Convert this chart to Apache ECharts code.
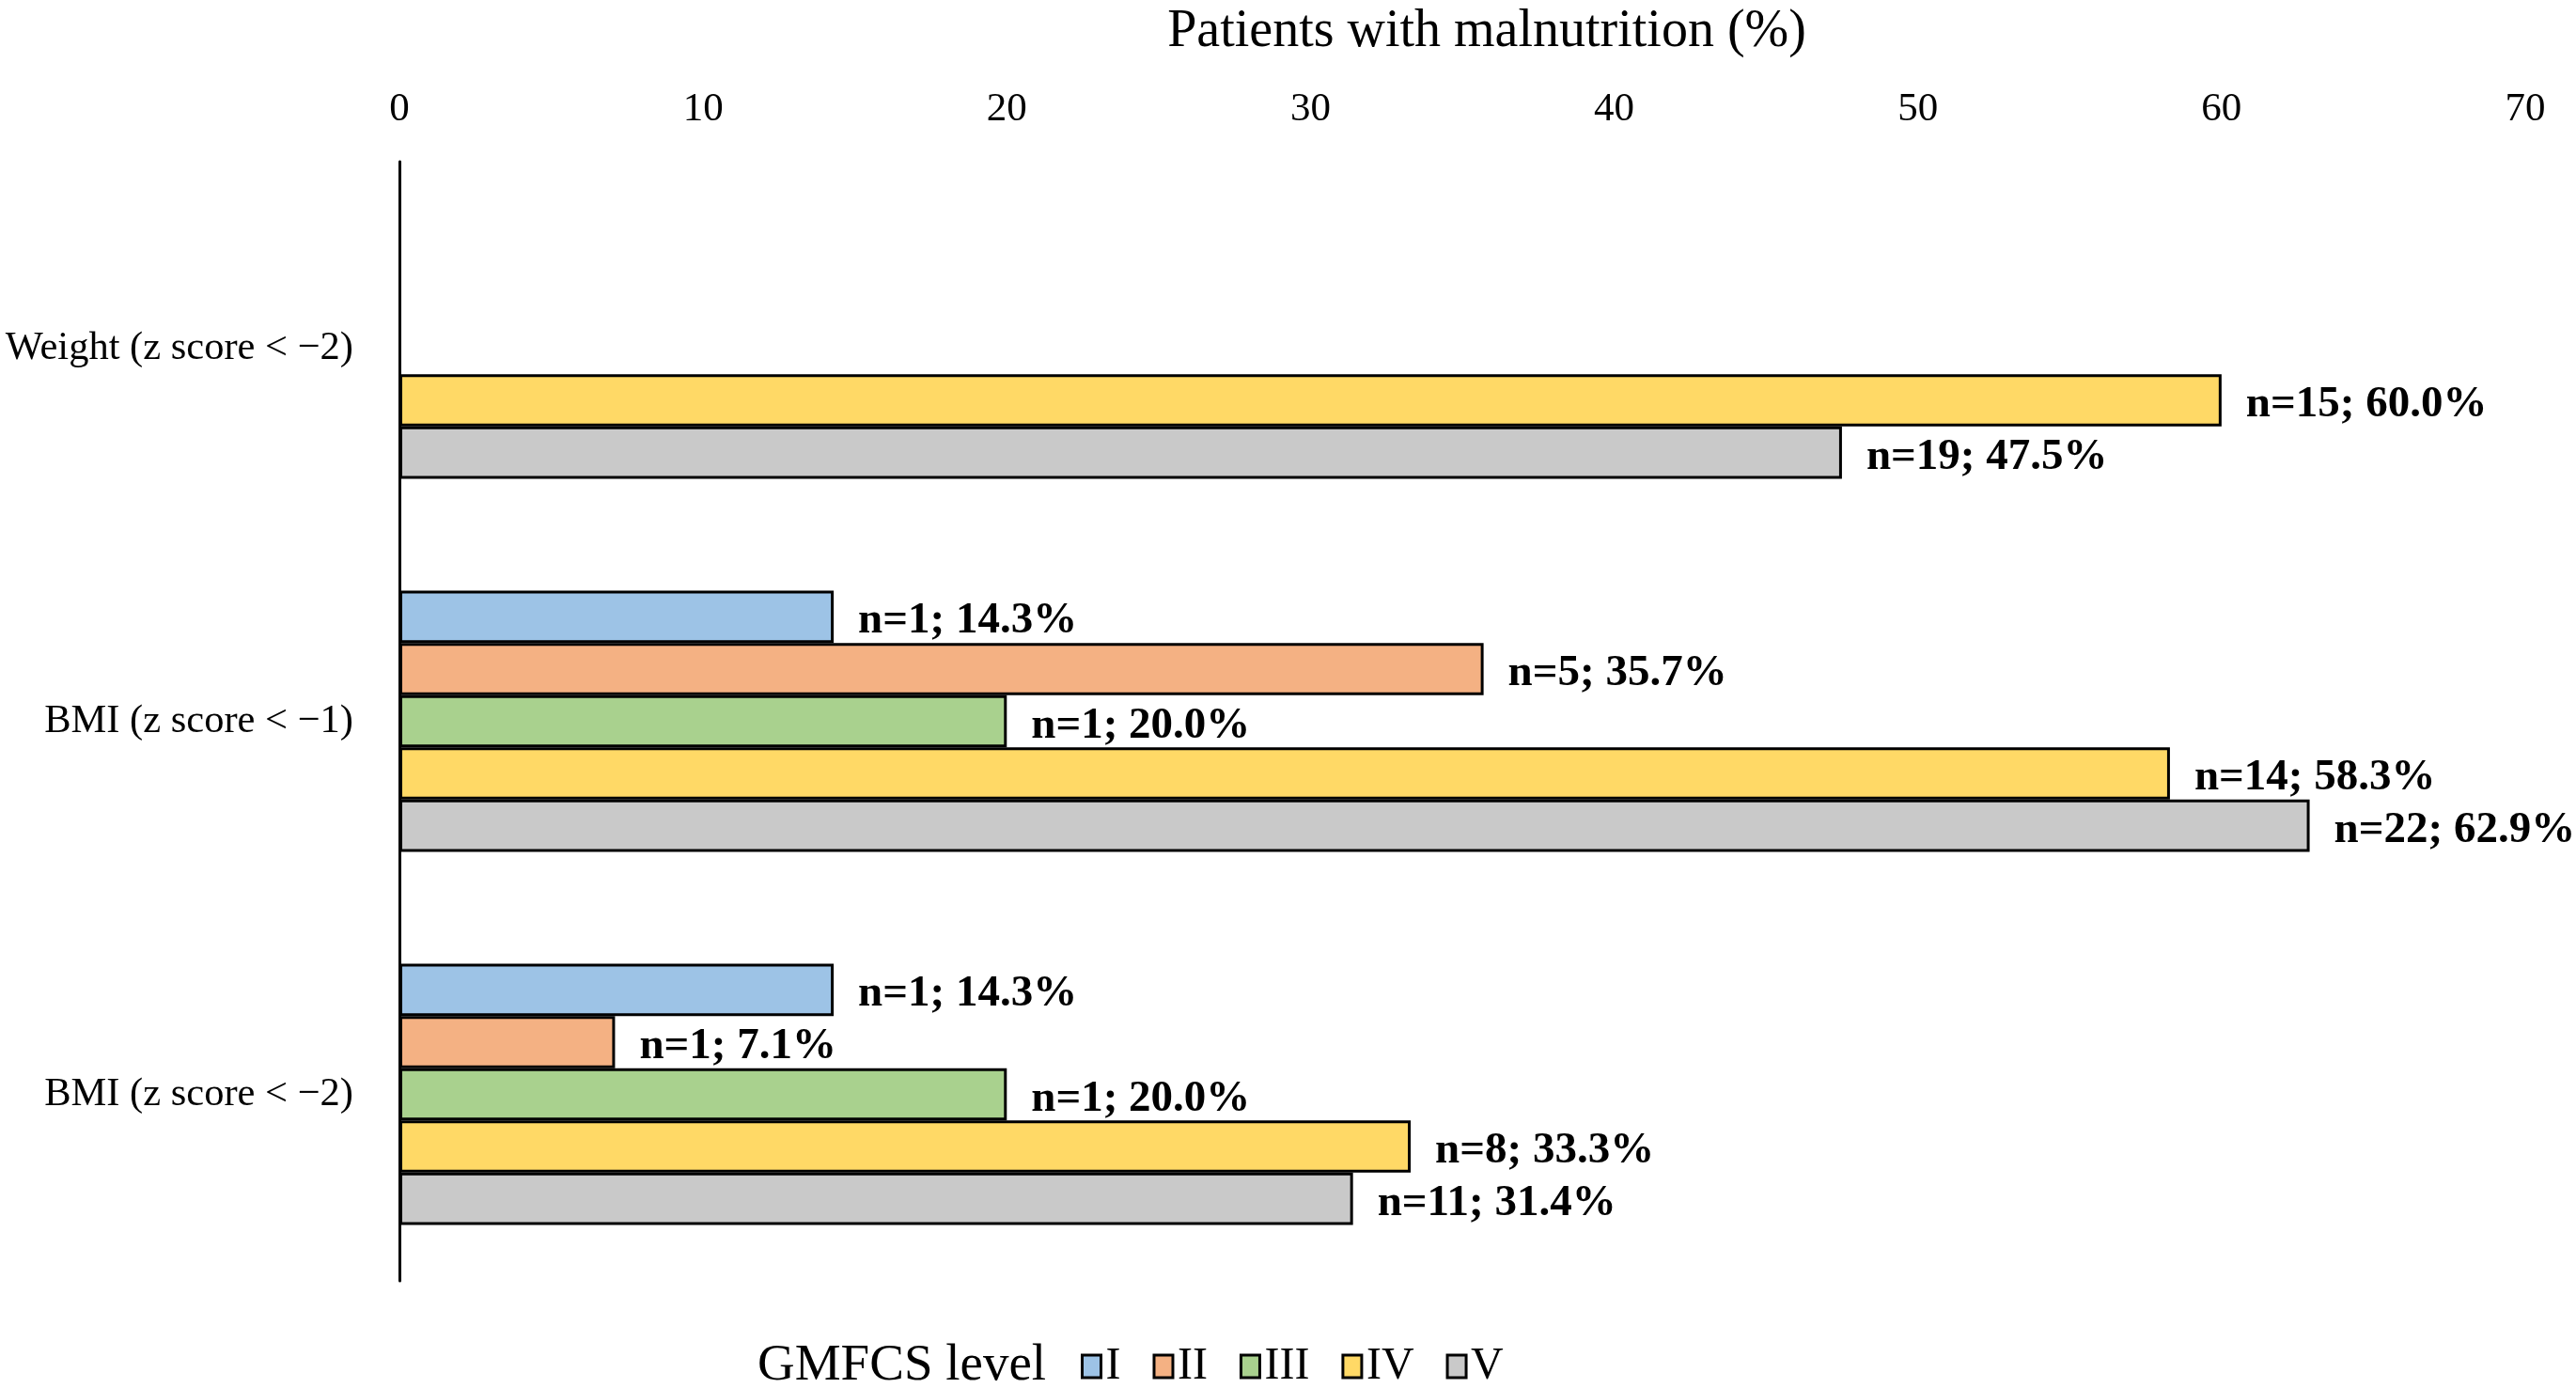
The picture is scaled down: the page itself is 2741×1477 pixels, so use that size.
<!DOCTYPE html>
<html>
<head>
<meta charset="utf-8">
<script src="https://cdn.jsdelivr.net/npm/echarts@6/dist/echarts.min.js"></script>
<style>
html,body{margin:0;padding:0;background:#fff;}
#chart{width:2741px;height:1477px;}
</style>
</head>
<body>
<div id="chart"></div>
<script>
const categories = ['Weight (z score < \u22122)', 'BMI (z score < \u22121)', 'BMI (z score < \u22122)'];
const levels = ['I', 'II', 'III', 'IV', 'V'];
const pctI   = [null, 14.3, 14.3];
const pctII  = [null, 35.7, 7.1];
const pctIII = [null, 20.0, 20.0];
const pctIV  = [60.0, 58.3, 33.3];
const pctV   = [47.5, 62.9, 31.4];
const nI   = [null, 1, 1];
const nII  = [null, 5, 1];
const nIII = [null, 1, 1];
const nIV  = [15, 14, 8];
const nV   = [19, 22, 11];
const xTicks = [0, 10, 20, 30, 40, 50, 60, 70];
const colors = ['#9DC3E6', '#F4B183', '#A9D18E', '#FFD966', '#C9C9C9'];

const pcts = [pctI, pctII, pctIII, pctIV, pctV];
const ns = [nI, nII, nIII, nIV, nV];
const FONT = '"Liberation Serif", "Times New Roman", serif';

const series = levels.map((lv, i) => ({
  name: lv,
  type: 'bar',
  barGap: '0%',
  barCategoryGap: '30%',
  data: pcts[i].map(v => v === null ? '-' : v),
  itemStyle: { color: colors[i], borderColor: '#000', borderWidth: 3 },
  label: {
    show: true,
    position: 'right',
    distance: 26,
    offset: [0, 5],
    fontFamily: FONT,
    fontWeight: 'bold',
    fontSize: 47,
    color: '#000',
    formatter: p => 'n=' + ns[i][p.dataIndex] + '; ' + Number(p.value).toFixed(1) + '%'
  }
}));

const chart = echarts.init(document.getElementById('chart'), null, { renderer: 'canvas' });
chart.setOption({
  backgroundColor: '#fff',
  animation: false,
  grid: { left: 425, right: 54, top: 172, bottom: 114, containLabel: false },
  xAxis: {
    type: 'value',
    position: 'top',
    min: xTicks[0],
    max: xTicks[xTicks.length - 1],
    interval: 10,
    axisLine: { show: false },
    axisTick: { show: false },
    splitLine: { show: false },
    axisLabel: { fontFamily: FONT, fontSize: 43, color: '#000', margin: 34 }
  },
  yAxis: {
    type: 'category',
    inverse: true,
    data: categories,
    axisLine: { show: true, lineStyle: { color: '#000', width: 3 } },
    axisTick: { show: false },
    axisLabel: { fontFamily: FONT, fontSize: 42.5, color: '#000', margin: 49 }
  },
  legend: {
    data: levels,
    left: 1150,
    top: 1428,
    padding: 0,
    icon: 'rect',
    itemWidth: 20,
    itemHeight: 24,
    itemGap: 34,
    itemStyle: { borderColor: '#000', borderWidth: 3 },
    textStyle: { fontFamily: FONT, fontSize: 48, color: '#000', lineHeight: 52 }
  },
  graphic: [
    { type: 'text', style: { x: 1582, y: 34, text: 'Patients with malnutrition (%)', textAlign: 'center', textVerticalAlign: 'middle', font: '56px ' + FONT, fill: '#000' } },
    { type: 'text', style: { x: 806, y: 1454, text: 'GMFCS level', textAlign: 'left', textVerticalAlign: 'middle', font: '55px ' + FONT, fill: '#000' } }
  ],
  series: series
});
</script>
</body>
</html>
